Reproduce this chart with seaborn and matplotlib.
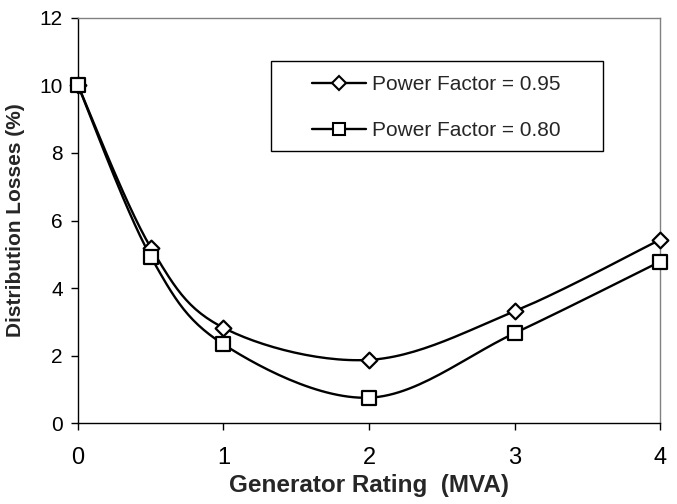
import numpy as np
import pandas as pd
import matplotlib

matplotlib.use("Agg")
import matplotlib.pyplot as plt
import seaborn as sns
from matplotlib.patches import Rectangle

# data
rating_mva = [0, 0.5, 1, 2, 3, 4]
loss_pf095 = [10.0, 5.2, 2.82, 1.87, 3.31, 5.43]
loss_pf080 = [10.0, 4.93, 2.33, 0.75, 2.66, 4.78]
labels = ["Power Factor = 0.95", "Power Factor = 0.80"]


def smooth(x, y, n=30):
    """Excel style smoothed line (Catmull-Rom bezier) through the points."""
    p = np.column_stack([x, y]).astype(float)
    p = np.vstack([p[0], p, p[-1]])
    out = []
    t = np.linspace(0, 1, n)[:, None]
    for i in range(1, len(p) - 2):
        b0 = p[i]
        b1 = p[i] + (p[i + 1] - p[i - 1]) / 6
        b2 = p[i + 1] - (p[i + 2] - p[i]) / 6
        b3 = p[i + 1]
        seg = ((1 - t) ** 3 * b0 + 3 * (1 - t) ** 2 * t * b1
               + 3 * (1 - t) * t ** 2 * b2 + t ** 3 * b3)
        out.append(seg if i == 1 else seg[1:])
    out = np.vstack(out)
    return out[:, 0], out[:, 1]


sns.set_style("white")
plt.rcParams["font.family"] = ["Liberation Sans", "DejaVu Sans"]

fig, ax = plt.subplots(figsize=(6.77, 5.04), dpi=100)
fig.subplots_adjust(left=0.1152, right=0.9749, top=0.9643, bottom=0.1607)

for vals, marker, ms, lms, lab in [(loss_pf095, "D", 8, 7.5, labels[0]),
                                   (loss_pf080, "s", 10, 8.5, labels[1])]:
    sx, sy = smooth(rating_mva, vals)
    sns.lineplot(x=sx, y=sy, ax=ax, color="black", linewidth=1.7, sort=False,
                 estimator=None)
    sns.scatterplot(x=rating_mva, y=vals, ax=ax, marker=marker, s=ms ** 2,
                    facecolor="white", edgecolor="black", linewidth=1.6,
                    zorder=3, clip_on=False)
    ax.plot([], [], color="black", lw=1.7, marker=marker, ms=lms,
            mfc="white", mec="black", mew=1.5, label=lab)

ax.set_xlim(0, 4)
ax.set_ylim(0, 12)
ax.set_xticks([0, 1, 2, 3, 4])
ax.set_yticks(range(0, 13, 2))
ax.tick_params(axis="both", direction="out", length=5, width=1,
               bottom=True, left=True, colors="black")
ax.tick_params(axis="x", pad=12, labelsize=17)
ax.tick_params(axis="y", pad=6, labelsize=15)

for side in ["left", "bottom"]:
    ax.spines[side].set_color("black")
    ax.spines[side].set_linewidth(1)
for side in ["top", "right"]:
    ax.spines[side].set_color("#808080")
    ax.spines[side].set_linewidth(1)

ax.set_xlabel("Generator Rating  (MVA)", fontsize=17.5, fontweight="bold",
              labelpad=4)
ax.set_ylabel("Distribution Losses (%)", fontsize=15, fontweight="bold",
              labelpad=10)

# legend box drawn separately, it is much wider than the entries
ax.add_patch(Rectangle((0.332, 0.672), 0.570, 0.222, transform=ax.transAxes,
                       facecolor="white", edgecolor="black", linewidth=1,
                       zorder=4))
leg = ax.legend(loc="center left", bbox_to_anchor=(0.402, 0.778),
                fontsize=15, frameon=False, borderpad=0, handlelength=2.6,
                labelspacing=1.3, borderaxespad=0, handletextpad=0.3)
leg.set_zorder(5)

fig.savefig("out.png", dpi=100)
